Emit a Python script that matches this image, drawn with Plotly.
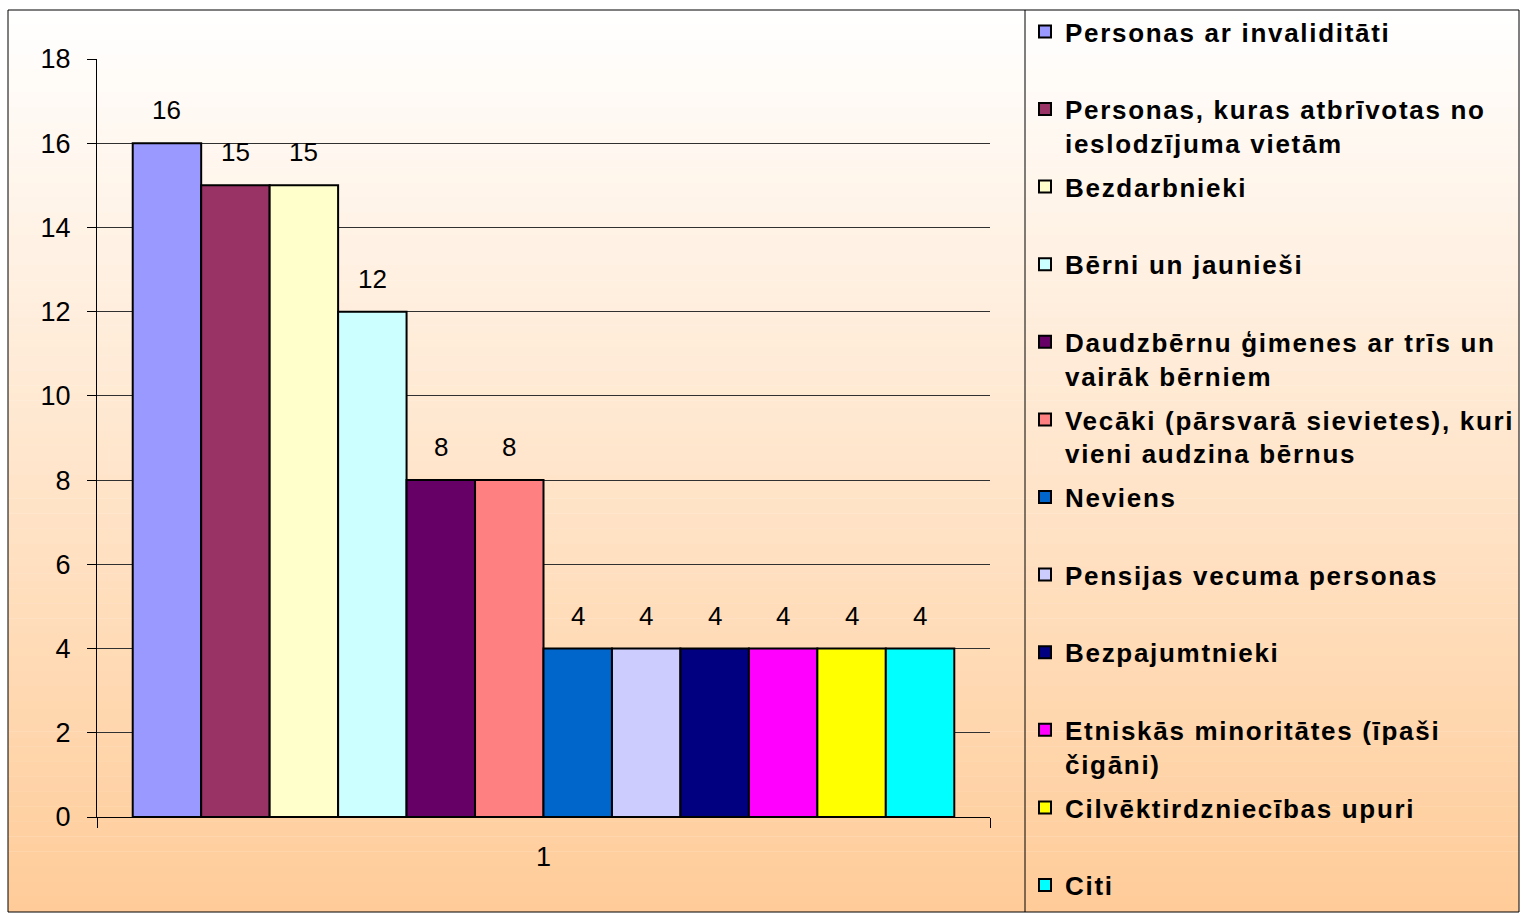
import plotly.graph_objects as go

# ---- data ----
category = ["1"]
series_names = [
    ["Personas ar invaliditāti"],
    ["Personas, kuras atbrīvotas no", "ieslodzījuma vietām"],
    ["Bezdarbnieki"],
    ["Bērni un jaunieši"],
    ["Daudzbērnu ģimenes ar trīs un", "vairāk bērniem"],
    ["Vecāki (pārsvarā sievietes), kuri", "vieni audzina bērnus"],
    ["Neviens"],
    ["Pensijas vecuma personas"],
    ["Bezpajumtnieki"],
    ["Etniskās minoritātes (īpaši", "čigāni)"],
    ["Cilvēktirdzniecības upuri"],
    ["Citi"],
]
values = [16, 15, 15, 12, 8, 8, 4, 4, 4, 4, 4, 4]
colors = ["#9999FF", "#993366", "#FFFFCC", "#CCFFFF", "#660066", "#FF8080",
          "#0066CC", "#CCCCFF", "#000080", "#FF00FF", "#FFFF00", "#00FFFF"]
y_ticks = [0, 2, 4, 6, 8, 10, 12, 14, 16, 18]

# ---- layout geometry (pixels) ----
W, H = 1521, 914
FONT = "Liberation Sans, Arial, sans-serif"
plot_l, plot_r, plot_t, plot_b = 97, 990, 59, 817
BARGAP = 0.08


def px(x):
    return x / W


def py(y):
    return 1 - y / H


def legend_label(lines, last=False):
    sp = '<span style="letter-spacing:1.7px">%s</span>'
    parts = [sp % ln for ln in lines]
    if len(parts) == 1 and not last:
        parts.append(" ")
    return "<br>".join(parts)


fig = go.Figure()
for i, (nm, v, c) in enumerate(zip(series_names, values, colors)):
    fig.add_trace(go.Bar(
        x=category, y=[v], name=legend_label(nm, i == len(values) - 1),
        legendgroup=f"g{i}",
        marker=dict(color=c, line=dict(color="black", width=2)),
        hovertemplate=" ".join(nm) + ": %{y}<extra></extra>",
    ))

# data labels above bars
n = len(values)
bar_w = (plot_r - plot_l) * (1 - BARGAP) / n
annotations = []
for i, v in enumerate(values):
    annotations.append(dict(
        x=0, y=v, xref="x", yref="y", text=str(v), showarrow=False,
        xshift=(i - (n - 1) / 2) * bar_w, yshift=33, yanchor="middle",
        font=dict(family=FONT, size=26, color="black"),
    ))

# gradient background
shapes = []
top, bot, left, right = 10, 912, 8, 1519
steps = 120
c0, c1 = (255, 255, 255), (255, 204, 153)
for k in range(steps):
    f = k / (steps - 1)
    col = tuple(round(a + (b - a) * f) for a, b in zip(c0, c1))
    y0 = top + (bot - top) * k / steps
    y1 = top + (bot - top) * (k + 1) / steps
    shapes.append(dict(type="rect", xref="paper", yref="paper",
                       x0=px(left), x1=px(right), y0=py(y1), y1=py(y0) + 0.0005,
                       fillcolor="rgb(%d,%d,%d)" % col, line=dict(width=0),
                       layer="below"))
# borders
shapes.append(dict(type="rect", xref="paper", yref="paper",
                   x0=px(left), x1=px(right), y0=py(bot), y1=py(top),
                   line=dict(color="black", width=1), layer="above"))
shapes.append(dict(type="line", xref="paper", yref="paper",
                   x0=px(1025), x1=px(1025), y0=py(bot), y1=py(top),
                   line=dict(color="black", width=1), layer="above"))

fig.update_layout(
    width=W, height=H, autosize=False,
    margin=dict(l=0, r=0, t=0, b=0, autoexpand=False),
    paper_bgcolor="white", plot_bgcolor="rgba(0,0,0,0)",
    barmode="group", bargap=BARGAP, bargroupgap=0,
    font=dict(family=FONT, color="black"),
    shapes=shapes, annotations=annotations,
    showlegend=True,
    legend=dict(
        x=px(1025), y=py(8), xanchor="left", yanchor="top",
        bgcolor="rgba(0,0,0,0)", borderwidth=0,
        font=dict(family=FONT, size=26, color="black", weight="bold"),
        traceorder="grouped", tracegroupgap=7, valign="top",
        maxheight=914,
        itemclick=False, itemdoubleclick=False,
    ),
    xaxis=dict(
        domain=[px(plot_l), px(plot_r)], type="category", range=[-0.5, 0.5],
        showline=True, linecolor="black", linewidth=1,
        ticks="outside", tickson="boundaries", ticklen=10, tickcolor="black",
        showgrid=False, zeroline=False, ticklabelstandoff=16,
        tickfont=dict(family=FONT, size=27, color="black"),
    ),
    yaxis=dict(
        domain=[py(plot_b), py(plot_t)], range=[0, 18],
        tickvals=y_ticks, ticktext=[str(t) for t in y_ticks],
        showline=True, linecolor="black", linewidth=1,
        ticks="outside", ticklen=9, tickcolor="black",
        showgrid=True, gridcolor="#303030", gridwidth=1, zeroline=False,
        ticklabelstandoff=11,
        tickfont=dict(family=FONT, size=27, color="black"),
    ),
)

fig.write_html("out.html", config={"displayModeBar": False},
               post_script="document.body.style.margin='0';document.body.style.overflow='hidden';")
